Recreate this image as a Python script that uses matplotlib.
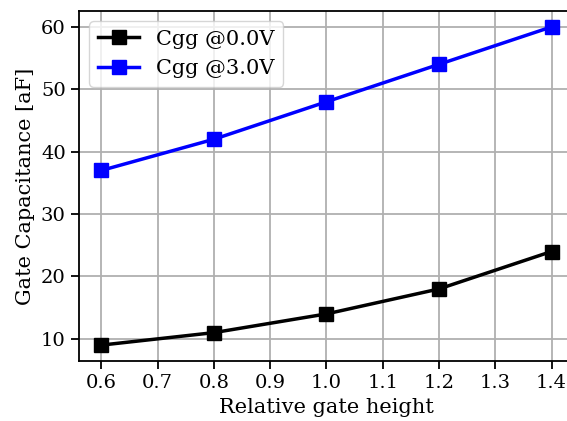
import matplotlib
matplotlib.use("Agg")
import matplotlib.pyplot as plt

plt.rcParams['font.family'] = 'DejaVu Serif'

gate_height = [0.6, 0.8, 1.0, 1.2, 1.4]
cgg_0v = [9, 11, 14, 18, 24]
cgg_3v = [37, 42, 48, 54, 60]
x_ticks = [0.6, 0.7, 0.8, 0.9, 1.0, 1.1, 1.2, 1.3, 1.4]
y_ticks = [10, 20, 30, 40, 50, 60]

fig = plt.figure(figsize=(5.67, 4.21), dpi=100)
# the right spine sits just outside the saved picture, as in the reference
ax = fig.add_axes([79 / 567, 1 - 361 / 421, (574 - 79) / 567, (361 - 11) / 421])

ax.plot(gate_height, cgg_0v, 's-', color='black', lw=2.5, ms=10, label='Cgg @0.0V')
ax.plot(gate_height, cgg_3v, 's-', color='blue', lw=2.5, ms=10, label='Cgg @3.0V')

ax.set_xlim(0.56, 1.44)
ax.set_ylim(6.45, 62.55)
ax.set_xticks(x_ticks)
ax.set_yticks(y_ticks)
ax.tick_params(labelsize=14, length=6, width=1.3)
for s in ax.spines.values():
    s.set_linewidth(1.3)
ax.grid(True, color='#b0b0b0', lw=1.3)
ax.set_xlabel('Relative gate height', fontsize=15)
ax.set_ylabel('Gate Capacitance [aF]', fontsize=15)
ax.legend(loc='upper left', fontsize=15)

fig.savefig('out.png', dpi=100)
